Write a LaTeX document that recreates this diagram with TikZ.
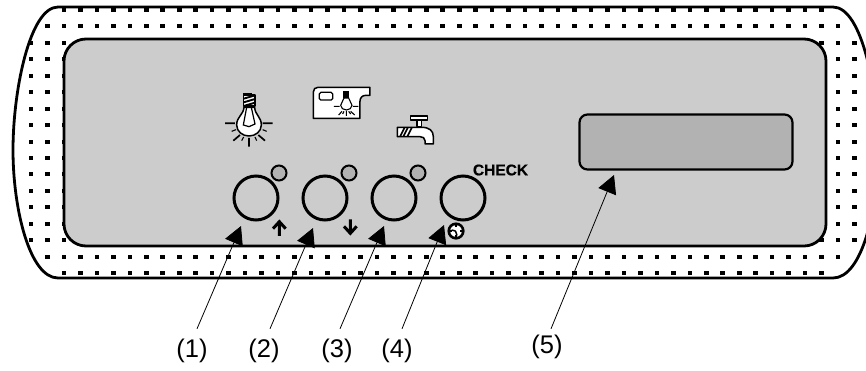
\documentclass[tikz,border=0pt]{standalone}
\usepackage{fontspec}
\setmainfont{Liberation Sans}
\usetikzlibrary{arrows.meta}
\definecolor{panel}{HTML}{CCCCCC}
\definecolor{ledgrey}{HTML}{B2B2B2}
\tikzset{
  casing/.style={line width=2.8pt,line join=round},
  panelbox/.style={draw,fill=panel,line width=2.8pt,rounded corners=22pt,inner sep=0pt,minimum width=762pt,minimum height=207pt},
  lcd/.style={draw,fill=ledgrey,line width=2.2pt,rounded corners=8pt,inner sep=0pt,minimum width=213pt,minimum height=55pt},
  btn/.style={draw,circle,line width=3pt,inner sep=0pt,minimum size=44pt},
  led/.style={draw,circle,fill=ledgrey,line width=2pt,inner sep=0pt,minimum size=15pt},
  callout/.style={inner sep=0pt,font=\fontsize{25.5}{27}\selectfont,minimum width=30pt},
  ptr/.style={line width=0.8pt,-{Triangle[length=18pt,width=19pt]}},
  icon/.style={line width=1.5pt,line join=round},
  thin ray/.style={line width=1.1pt},
  dirarrow/.style={line width=3pt,line join=miter},
}
\begin{document}
\begin{tikzpicture}[x=1pt,y=-1pt]
\useasboundingbox (0,0) rectangle (866,370);
\fill[white] (0,0) rectangle (866,370);

% dots of the casing
\foreach \j/\a/\b in {0/2/48,1/1/49,15/1/49,16/2/48}{
  \foreach \k in {\a,...,\b}{
    \fill ({31+16.47*\k-2.3},{10+16.44*\j-2}) rectangle +(4.6,4);
  }
}
\foreach \j in {2,...,14}{
  \foreach \k in {0,1,2,48,49,50}{
    \fill ({31+16.47*\k-2.3},{10+16.44*\j-2}) rectangle +(4.6,4);
  }
}
% casing
\draw[casing] (58,7) -- (833,7)
  .. controls (862,7) and (878,90) .. (878,150)
  .. controls (878,210) and (862,278) .. (833,278)
  -- (58,278)
  .. controls (30,278) and (13,210) .. (13,150)
  .. controls (13,90) and (30,7) .. (58,7) -- cycle;

\node[panelbox] (panel) at (445,142.5) {};
\node[lcd] (display) at (686,142) {};

\node[btn] (b1) at (256,198) {};
\node[btn] (b2) at (325,198) {};
\node[btn] (b3) at (394,198) {};
\node[btn] (b4) at (463,198) {};
\node[led] (d1) at (279,173) {};
\node[led] (d2) at (349,173) {};
\node[led] (d3) at (418,173) {};
\node[inner sep=0pt,font=\bfseries\fontsize{15.5}{16}\selectfont\addfontfeature{FakeBold=0.6}] (check) at (500.5,170) {CHECK};

% lamp icon
\begin{scope}[shift={(190,70)},x=0.3333pt,y=-0.3333pt]
  \draw[icon,fill=white] (162,112) .. controls (160,135) and (140,140) .. (140,165)
     .. controls (140,185) and (158,198) .. (177,198)
     .. controls (196,198) and (214,185) .. (214,165)
     .. controls (214,140) and (195,135) .. (194,112) -- cycle;
  \draw[line width=1.2pt] (170,112) -- (160,165) -- (177,170) -- (195,162) -- (184,112);
  \fill (160,70) rectangle (187,80);
  \draw[icon,fill=white] (161,75) -- (195,75) -- (195,108) -- (161,108) -- cycle;
  \draw[line width=1.9pt] (161,86) -- (195,76) (161,97) -- (195,87) (161,108) -- (195,98);
  \draw[line width=1.7pt] (105,160) -- (135,160) (218,160) -- (248,160) (177,204) -- (177,230)
     (130,212) -- (150,195) (225,212) -- (205,195);
  \draw[thin ray] (125,184) -- (138,179) (218,179) -- (230,184) (155,212) -- (161,201) (195,201) -- (200,212);
\end{scope}

% fridge light icon
\begin{scope}[shift={(190,70)},x=0.3333pt,y=-0.3333pt]
  \draw[icon,fill=white] (370,145) -- (370,66) .. controls (370,57) and (376,52) .. (384,52)
     -- (540,52) -- (540,76) -- (528,76) .. controls (516,76) and (510,84) .. (510,94)
     -- (510,145) -- cycle;
  \draw[line width=1.2pt,rounded corners=1.5pt] (388,67) rectangle (428,90);
  \fill (460,62) rectangle (478,84);
  \draw[line width=1.1pt,fill=white] (462,84) .. controls (462,92) and (452,98) .. (452,106)
     .. controls (452,114) and (460,120) .. (469,120)
     .. controls (478,120) and (486,114) .. (486,106)
     .. controls (486,98) and (476,92) .. (476,84) -- cycle;
  \draw[thin ray] (432,109) -- (449,109) (489,109) -- (505,109) (446,135) -- (456,124) (482,124) -- (494,135)
     (469,123) -- (469,138) (458,132) -- (462,124) (476,124) -- (482,132);
\end{scope}

% tap icon
\begin{scope}[shift={(370,100)},x=0.3333pt,y=-0.3333pt]
  \draw[icon,fill=white] (122,48) rectangle (172,60);
  \draw[icon,fill=white] (141,60) rectangle (155,80);
  \draw[icon,fill=white] (82,82) -- (155,82) .. controls (178,82) and (190,92) .. (190,110)
     -- (190,132) -- (165,132) -- (165,122) .. controls (165,114) and (158,110) .. (150,110)
     -- (82,110) -- cycle;
  \draw[line width=1.7pt] (90,110) -- (104,82) (100,110) -- (114,82) (112,110) -- (126,82);
\end{scope}

% up and down marks
\begin{scope}[shift={(210,150)},x=0.3333pt,y=-0.3333pt]
  \draw[dirarrow] (208,258) -- (208,215) (189,236) -- (208,215) -- (227,236);
  \draw[dirarrow] (421,208) -- (421,250) (402,229) -- (421,250) -- (440,229);
\end{scope}

% clock mark
\begin{scope}[shift={(456,231)}]
  \fill (0,0) circle (8.6);
  \fill[white] (0,0) circle (5.8);
  \draw[line width=1.5pt] (-0.5,0) -- (-4.5,-1) (-0.5,0) -- (1,4.5);
  \draw[line width=1.1pt] (0,-6) -- (0,-4) (6,0) -- (4,0) (-6,0) -- (-4,0) (0,6) -- (0,4);
\end{scope}

% callouts
\node[callout,minimum height=44pt] (l1) at (192,351) {(1)};
\node[callout,minimum height=44pt] (l2) at (264,351) {(2)};
\node[callout,minimum height=44pt] (l3) at (337,351) {(3)};
\node[callout,minimum height=44pt] (l4) at (397,351) {(4)};
\node[callout,minimum height=36pt] (l5) at (547,347) {(5)};
\coordinate (t1) at (241,226);
\coordinate (t2) at (313,228);
\coordinate (t3) at (384,226);
\coordinate (t4) at (444,225);
\coordinate (t5) at (614,175);
\draw[ptr] ([xshift=5pt]l1.north) -- (t1);
\draw[ptr] ([xshift=6pt]l2.north) -- (t2);
\draw[ptr] ([xshift=3pt]l3.north) -- (t3);
\draw[ptr] ([xshift=5pt]l4.north) -- (t4);
\draw[ptr] ([xshift=4pt]l5.north) -- (t5);
\end{tikzpicture}
\end{document}
